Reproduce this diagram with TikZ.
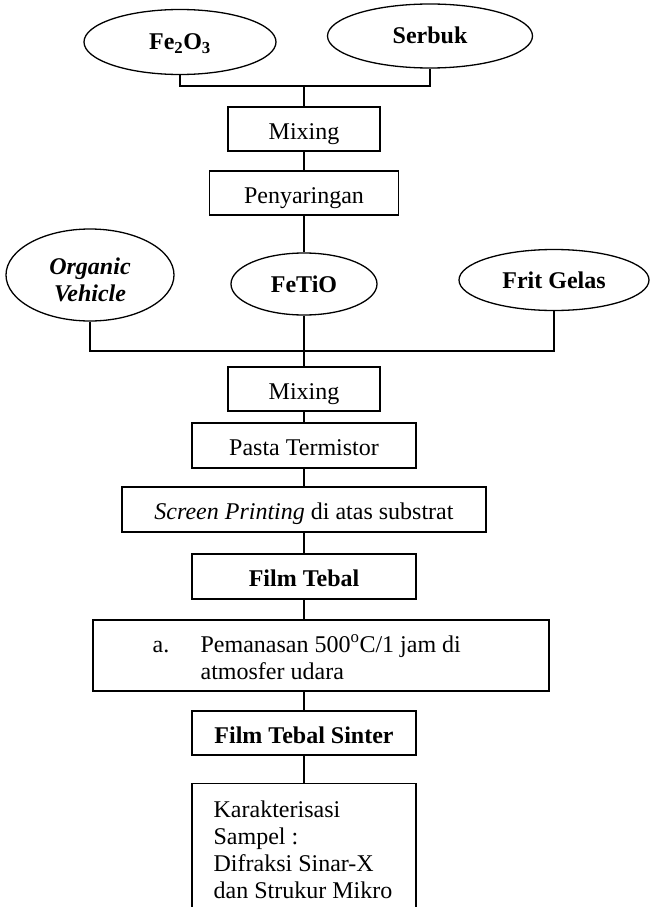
\documentclass[tikz,border=0pt]{standalone}
\usepackage{fontspec}
\setmainfont{Liberation Serif}
\usetikzlibrary{shapes.geometric}
\newcommand{\teks}{\fontsize{24}{27}\selectfont}

\begin{document}
\begin{tikzpicture}[x=1pt,y=-1pt,line width=1.3pt,font=\teks,
  bahan/.style={draw,ellipse,inner sep=0pt,font=\teks\bfseries,text height=16pt,text depth=0pt},
  proses/.style={draw,inner sep=0pt,minimum height=44pt,text height=20pt,text depth=0pt},
  tebal/.style={font=\teks\bfseries}]
  \fill[white] (0,0) rectangle (650,907);
  \useasboundingbox (0,0) rectangle (650,907);
  \clip (0,0) rectangle (650,907);

  \node[bahan,minimum width=192pt,minimum height=65pt] (fe) at (180,42) {Fe\textsubscript{2}O\textsubscript{3}};
  \node[bahan,minimum width=205pt,minimum height=64pt] (serbuk) at (430,36) {Serbuk};
  \node[proses,minimum width=152pt] (mix1) at (304,129) {Mixing};
  \node[proses,minimum width=189pt] (saring) at (304,193) {Penyaringan};

  \node[bahan,minimum width=168pt,minimum height=92pt,text depth=18pt] (org) at (90,275)
    {\itshape\begin{tabular}[t]{@{}c@{}}Organic\\Vehicle\end{tabular}};
  \node[bahan,minimum width=146pt,minimum height=62pt] (fetio) at (304,284) {FeTiO};
  \node[bahan,minimum width=190pt,minimum height=61pt] (frit) at (554,280) {Frit Gelas};

  \node[proses,minimum width=152pt] (mix2) at (304,389) {Mixing};
  \node[proses,minimum width=224pt,minimum height=45pt] (pasta) at (304,445.5) {Pasta Termistor};
  \node[proses,minimum width=364pt,minimum height=45pt] (cetak) at (304,509.5) {\textit{Screen Printing} di atas substrat};
  \node[proses,tebal,minimum width=224pt,minimum height=45pt] (film) at (304,576.5) {Film Tebal};
  \node[proses,minimum width=456pt,minimum height=71pt] (panas) at (321,655.5) {};
  \node[anchor=base west,inner sep=0pt] (panasket) at (152,652)
    {\begin{tabular}[t]{@{}p{48pt}@{}l@{}}a. & Pemanasan 500\textsuperscript{o}C/1 jam di\\ & atmosfer udara\end{tabular}};
  \node[proses,tebal,minimum width=224pt] (sinter) at (304,733) {Film Tebal Sinter};
  \node[proses,anchor=north,minimum width=224pt,minimum height=140pt] (karak) at (304,783) {};
  \node[anchor=base west,inner sep=0pt] (karakket) at (213,817)
    {\begin{tabular}[t]{@{}l@{}}Karakterisasi\\Sampel :\\Difraksi Sinar-X\\dan Strukur Mikro\end{tabular}};

  \coordinate (j1) at (304,86);
  \coordinate (j2) at (304,351);
  \draw (fe.south) |- (j1) -| (serbuk.south);
  \draw (org.south) |- (j2) -| (frit.south);
  \foreach \a/\b in {j1/mix1,mix1/saring,saring/fetio,fetio/mix2,mix2/pasta,pasta/cetak,
    cetak/film,sinter/karak}
    \draw (\a) -- (\b);
  \draw (film.south) -- (film.south |- panas.north);
  \draw (sinter.north |- panas.south) -- (sinter.north);
\end{tikzpicture}
\end{document}
